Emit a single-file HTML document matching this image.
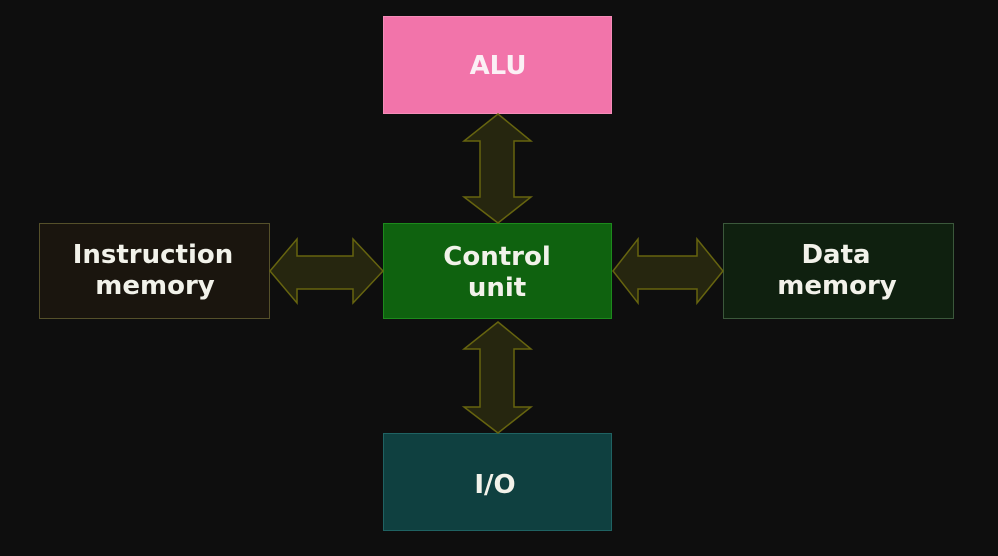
<!DOCTYPE html>
<html><head><meta charset="utf-8"><style>
html,body{margin:0;padding:0;background:#0e0e0e;}
svg{display:block;}
text{font-family:"DejaVu Sans","Liberation Sans",sans-serif;font-weight:bold;font-size:26px;fill:#f2f2ea;text-anchor:middle;}
</style></head><body>
<svg width="998" height="556" viewBox="0 0 998 556" xmlns="http://www.w3.org/2000/svg">
<rect x="0" y="0" width="998" height="556" fill="#0e0e0e"/>
<!-- boxes -->
<rect x="383.5" y="16.5" width="228" height="97" fill="#f274aa" stroke="#f48cb8" stroke-width="1"/>
<rect x="383.5" y="223.5" width="228" height="95" fill="#0f620f" stroke="#1c8a1c" stroke-width="1"/>
<rect x="383.5" y="433.5" width="228" height="97" fill="#0f4040" stroke="#1f6262" stroke-width="1"/>
<rect x="39.5" y="223.5" width="230" height="95" fill="#1a150e" stroke="#55502a" stroke-width="1"/>
<rect x="723.5" y="223.5" width="230" height="95" fill="#0f200f" stroke="#3b583b" stroke-width="1"/>
<!-- arrows -->
<g fill="#26260f" stroke="#66640f" stroke-width="1.5" stroke-linejoin="miter">
<polygon points="498,114 531,141 514,141 514,197 531,197 498,223 464,197 480,197 480,141 464,141"/>
<polygon points="498,322 531,349 514,349 514,407 531,407 498,433 464,407 480,407 480,349 464,349"/>
<polygon points="270,271 297,239 297,256 353,256 353,239 383,271 353,303 353,289 297,289 297,303"/>
<polygon points="613,271 638,239 638,256 697,256 697,239 723,271 697,303 697,289 638,289 638,303"/>
</g>
<!-- labels -->
<text x="498" y="74" style="fill:#fbf0f5">ALU</text>
<text x="497" y="265">Control</text>
<text x="497" y="296">unit</text>
<text x="153" y="263">Instruction</text>
<text x="155" y="294">memory</text>
<text x="836" y="263">Data</text>
<text x="837" y="294">memory</text>
<text x="495" y="493">I/O</text>
</svg>
</body></html>
